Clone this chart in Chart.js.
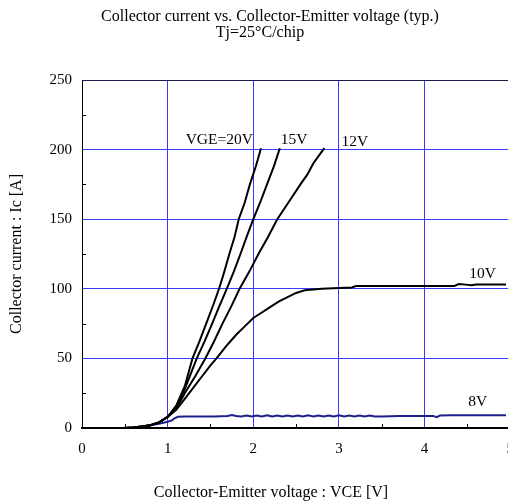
<!DOCTYPE html>
<html>
<head>
<meta charset="utf-8">
<script src="https://cdn.jsdelivr.net/npm/chart.js@4"></script>
<style>
  html, body { margin: 0; padding: 0; background: #fff; overflow: hidden; }
  #wrap { width: 526px; height: 502px; }
</style>
</head>
<body>
<div id="wrap"><canvas id="myChart" width="526" height="502"></canvas></div>
<script>
/* globals Chart:false */

// VCE [V] / Ic [A], one pair of arrays per gate voltage
const vce20 = [0, 0.5, 0.6, 0.7, 0.8, 0.9, 1.0, 1.1, 1.2, 1.29, 1.37, 1.45, 1.53, 1.6, 1.66, 1.72, 1.78, 1.83, 1.9, 1.96, 2.03, 2.09];
const ic20 = [0, 0, 0.4, 1, 2, 4, 8, 16, 30, 50, 62, 75, 88, 100, 112, 125, 137, 150, 162, 175, 188, 201];

const vce15 = [0, 0.5, 0.6, 0.7, 0.8, 0.9, 1.0, 1.1, 1.2, 1.34, 1.43, 1.52, 1.6, 1.69, 1.77, 1.85, 1.92, 2.0, 2.08, 2.16, 2.24, 2.31];
const ic15 = [0, 0, 0.4, 1, 2, 4, 8, 15, 28, 50, 62, 75, 87, 100, 112, 125, 137, 150, 162, 175, 188, 201];

const vce12 = [0, 0.5, 0.6, 0.7, 0.8, 0.9, 1.0, 1.1, 1.2, 1.32, 1.44, 1.54, 1.64, 1.74, 1.84, 1.95, 2.06, 2.17, 2.28, 2.41, 2.55, 2.63, 2.7, 2.77, 2.83];
const ic12 = [0, 0, 0.4, 1, 2, 4, 8, 14, 25, 37, 50, 62, 75, 87, 100, 112, 125, 137, 150, 162, 175, 182, 190, 196, 201];

const vce10 = [0, 0.5, 0.6, 0.7, 0.8, 0.9, 1.0, 1.1, 1.2, 1.3, 1.4, 1.5, 1.57, 1.7, 1.8, 1.9, 2.0, 2.1, 2.2, 2.3, 2.4, 2.5, 2.6, 2.7, 2.8, 3.0, 3.15, 3.2, 3.5, 4.0, 4.35, 4.4, 4.48, 4.55, 4.6, 4.7, 4.95];
const ic10 = [0, 0, 0.4, 1, 2, 4, 8, 13, 21, 29, 37, 45, 50, 60, 67, 73, 79, 83, 87, 91, 94, 97, 99, 99.5, 100, 100.5, 101, 102, 102, 102, 102, 103.5, 103, 102.5, 103, 103, 103];

const vce8 = [0, 0.5, 0.6, 0.7, 0.8, 0.9, 1.0, 1.05, 1.08, 1.12, 1.2, 1.4, 1.55, 1.7, 1.75, 1.8, 1.86, 1.92, 1.98, 2.04, 2.1, 2.16, 2.22, 2.28, 2.34, 2.4, 2.46, 2.52, 2.58, 2.64, 2.7, 2.76, 2.82, 2.88, 2.94, 3.0, 3.06, 3.12, 3.18, 3.24, 3.3, 3.36, 3.42, 3.5, 3.7, 3.9, 4.1, 4.14, 4.18, 4.3, 4.6, 4.95];
const ic8 = [0, 0, 0.4, 1, 2, 3, 4.5, 5.5, 7, 8, 8.2, 8.2, 8.3, 8.6, 9.4, 8.6, 8.2, 9.0, 8.2, 9.0, 8.3, 9.1, 8.3, 9.0, 8.2, 9.0, 8.3, 8.9, 8.2, 9.1, 8.3, 9.0, 8.2, 9.0, 8.3, 9.1, 8.2, 8.9, 8.3, 9.0, 8.2, 8.9, 8.2, 8.3, 8.7, 8.7, 8.7, 7.8, 8.9, 9.2, 9.2, 9.2];

const series = [
  { label: "VGE=20V", x: vce20, y: ic20, color: "#000000" },
  { label: "15V", x: vce15, y: ic15, color: "#000000" },
  { label: "12V", x: vce12, y: ic12, color: "#000000" },
  { label: "10V", x: vce10, y: ic10, color: "#000000" },
  { label: "8V", x: vce8, y: ic8, color: "#1e1e8c" },
];

// curve labels, anchored in data units (left edge, baseline)
const curveLabels = [
  { text: "VGE=20V", x: 1.21, y: 204 },
  { text: "15V", x: 2.32, y: 204 },
  { text: "12V", x: 3.03, y: 202.5 },
  { text: "10V", x: 4.52, y: 107.5 },
  { text: "8V", x: 4.51, y: 15.8 },
];

const xTicks = [0, 1, 2, 3, 4, 5];
const yTicks = [0, 50, 100, 150, 200, 250];
const xMinor = [0.5, 1.5, 2.5, 3.5, 4.5];
const yMinor = [25, 75, 125, 175, 225];

const serif = "'Liberation Serif', 'Times New Roman', serif";
const gridBlue = "#3a3aff";

const decor = {
  id: "decor",
  afterDatasetsDraw(chart) {
    const { ctx, chartArea: a, scales } = chart;
    const sx = scales.x, sy = scales.y;
    ctx.save();
    // top frame line
    ctx.strokeStyle = "#1a1a50";
    ctx.lineWidth = 1;
    ctx.beginPath();
    ctx.moveTo(a.left, a.top + 0.5);
    ctx.lineTo(a.right, a.top + 0.5);
    ctx.stroke();
    // minor ticks, drawn inward
    ctx.strokeStyle = "#000";
    ctx.beginPath();
    yMinor.forEach(v => {
      const py = Math.round(sy.getPixelForValue(v)) + 0.5;
      ctx.moveTo(a.left, py);
      ctx.lineTo(a.left + 4, py);
    });
    xMinor.forEach(v => {
      const px = Math.round(sx.getPixelForValue(v)) + 0.5;
      ctx.moveTo(px, a.bottom);
      ctx.lineTo(px, a.bottom - 4);
    });
    ctx.stroke();
    // curve labels
    ctx.fillStyle = "#000";
    ctx.font = "15.5px " + serif;
    ctx.textAlign = "left";
    ctx.textBaseline = "alphabetic";
    curveLabels.forEach(l => {
      ctx.fillText(l.text, sx.getPixelForValue(l.x), sy.getPixelForValue(l.y));
    });
    // titles
    ctx.font = "16px " + serif;
    ctx.textAlign = "center";
    ctx.fillText("Collector current vs. Collector-Emitter voltage (typ.)", 270, 21);
    ctx.fillText("Tj=25\u00b0C/chip", 260, 37);
    ctx.fillText("Collector-Emitter voltage : VCE [V]", 271, 497);
    ctx.translate(17, (a.top + a.bottom) / 2);
    ctx.rotate(-Math.PI / 2);
    ctx.textBaseline = "middle";
    ctx.fillText("Collector current : Ic [A]", 0, 0);
    ctx.restore();
  },
};

const ctx = document.getElementById("myChart");
// eslint-disable-next-line no-unused-vars
const myChart = new Chart(ctx, {
  type: "scatter",
  data: {
    datasets: series.map(s => ({
      label: s.label,
      data: s.x.map((v, i) => ({ x: v, y: s.y[i] })),
      showLine: true,
      borderColor: s.color,
      backgroundColor: s.color,
      borderWidth: 2,
      pointRadius: 0,
      tension: 0,
    })),
  },
  options: {
    responsive: false,
    animation: false,
    layout: { padding: { left: 8, top: 80, right: 6, bottom: 0 } },
    plugins: {
      legend: { display: false },
      tooltip: { enabled: false },
      title: { display: false },
    },
    scales: {
      x: {
        type: "linear",
        min: 0,
        max: 5,
        afterFit: s => { s.height = 74; },
        afterBuildTicks: s => { s.ticks = xTicks.map(v => ({ value: v })); },
        ticks: { color: "#000", font: { family: serif, size: 15 }, padding: 12, maxRotation: 0 },
        grid: { color: gridBlue, lineWidth: 1, drawTicks: false },
        border: { color: "#000", width: 2 },
      },
      y: {
        type: "linear",
        min: 0,
        max: 250,
        afterFit: s => { s.width = 74; },
        afterBuildTicks: s => { s.ticks = yTicks.map(v => ({ value: v })); },
        ticks: { color: "#000", font: { family: serif, size: 15 }, padding: 10 },
        grid: { color: gridBlue, lineWidth: 1, drawTicks: false },
        border: { color: "#000", width: 1 },
      },
    },
  },
  plugins: [decor],
});
</script>
</body>
</html>
